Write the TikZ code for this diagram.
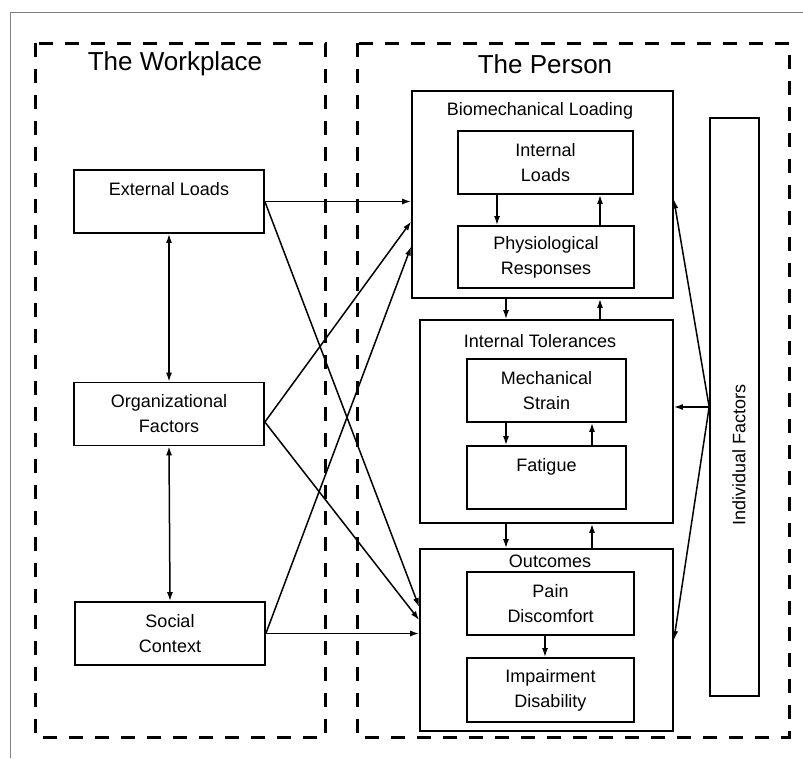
\documentclass[tikz,border=0pt]{standalone}
\usepackage{fontspec}
\setmainfont{Liberation Sans}
\usetikzlibrary{positioning,arrows.meta}

\begin{document}
\begin{tikzpicture}[x=1pt,y=-1pt,>={Latex[length=9pt,width=6pt]},
  every node/.style={font=\fontsize{18}{25}\selectfont, inner sep=0pt},
  part/.style={draw, line width=1.7pt, align=center},
  factor/.style={part, minimum width=190, minimum height=63},
  zone/.style={draw, dash pattern=on 14pt off 12pt, line width=3pt},
  link/.style={->, line width=1.5pt},
  title/.style={font=\fontsize{26}{30}\selectfont}]

\useasboundingbox (0,0) rectangle (803,758);
\draw[gray, line width=1pt] (10,758) -- (10,12) -- (803,12);

% the two zones
\draw[zone] (35,43) rectangle (325,737);
\draw[zone] (357,43) rectangle (789,737);
\node[title] (wp) at (175,64) {The Workplace};
\node[title] (ps) at (545,64) {The Person};

% workplace
\node[factor] (ext) at (169,201.5) {External Loads\\\phantom{L}};
\node[factor] (org) at (169,414) {Organizational\\Factors};
\node[factor] (soc) at (170,633.5) {Social\\Context};

\draw[<->, line width=1.5pt] (ext.south) -- (org.north);
\draw[<->, line width=1.5pt] (org.south) -- (soc.north);

% the person
\node[part, minimum width=261, minimum height=207] (bio) at (542.5,194.5) {};
\node (biot) at (540,111) {Biomechanical Loading};
\node[part, minimum width=175, minimum height=63] (il) at (545.5,162.5) {Internal\\Loads};
\node[part, minimum width=176, minimum height=62] (pr) at (546,257) {Physiological\\Responses};

\node[part, minimum width=253, minimum height=203] (tol) at (546.5,421.5) {};
\node (tolt) at (540,341) {Internal Tolerances};
\node[part, minimum width=159, minimum height=63] (ms) at (546.5,390.5) {Mechanical\\Strain};
\node[part, minimum width=159, minimum height=63] (fat) at (546.5,477.5) {Fatigue\\\phantom{L}};

\node[part, minimum width=253, minimum height=182] (out) at (546.5,640) {};
\node (outt) at (550,561) {Outcomes};
\node[part, minimum width=167, minimum height=63] (pd) at (550.5,603.5) {Pain\\Discomfort};
\node[part, minimum width=167, minimum height=64] (id) at (550.5,690) {Impairment\\Disability};

\node[part, minimum width=49, minimum height=578] (ind) at (734.5,407) {};
\node[rotate=90] (indt) at (739,455) {Individual Factors};

% columns for the short arrows
\coordinate (c1) at (497,0);
\coordinate (c2) at (600,0);
\coordinate (c3) at (506,0);
\coordinate (c4) at (592,0);
\coordinate (c5) at (545,0);

\draw[link] (il.south -| c1) -- (pr.north -| c1);
\draw[link] (pr.north -| c2) -- (il.south -| c2);
\draw[link] (bio.south -| c3) -- (tol.north -| c3);
\draw[link] (tol.north -| c2) -- (bio.south -| c2);
\draw[link] (ms.south -| c3) -- (fat.north -| c3);
\draw[link] (fat.north -| c4) -- (ms.south -| c4);
\draw[link] (tol.south -| c3) -- (out.north -| c3);
\draw[link] (out.north -| c4) -- (tol.south -| c4);
\draw[link] (pd.south -| c5) -- (id.north -| c5);

% workplace to person
\draw[link] (ext.east) -- (ext.east -| bio.west);
\draw[link] (ext.east) -- ([yshift=33pt]out.west);
\draw[link] ([yshift=-8pt]org.east) -- ([yshift=-27pt]bio.west);
\draw[link] ([yshift=-8pt]org.east) -- ([yshift=20pt]out.west);
\draw[link] (soc.east) -- ([yshift=-52pt]bio.west);
\draw[link] (soc.east) -- (soc.east -| out.west);

% individual factors
\draw[link] (ind.west) -- ([yshift=-5pt]bio.east);
\draw[link] (ind.west) -- (ind.west -| tol.east);
\draw[link] (ind.west) -- (out.east);

\end{tikzpicture}
\end{document}
